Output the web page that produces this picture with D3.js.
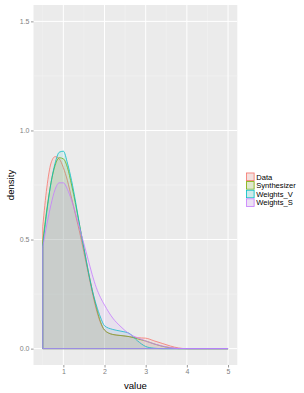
<!DOCTYPE html>
<html>
<head>
<meta charset="utf-8">
<script src="https://cdn.jsdelivr.net/npm/d3@7"></script>
<style>
  body { margin: 0; background: #fff; }
  text { font-family: "Liberation Sans", Arial, sans-serif; }
</style>
</head>
<body>
<svg id="chart" width="304" height="393"></svg>
<script>
const width = 304;
const height = 393;

// density estimates
const xs = [0.5, 0.6, 0.7, 0.8, 0.9, 1.0, 1.1, 1.2, 1.3, 1.4, 1.5, 1.6, 1.7, 1.8, 1.9, 2.0, 2.2, 2.4, 2.6, 2.8, 3.0, 3.2, 3.4, 3.6, 3.8, 4.0, 5.0];
const dataY    = [0.56, 0.74, 0.85, 0.88, 0.87, 0.83, 0.77, 0.69, 0.61, 0.53, 0.44, 0.35, 0.26, 0.18, 0.12, 0.085, 0.065, 0.06, 0.055, 0.05, 0.048, 0.036, 0.024, 0.012, 0.003, 0, 0];
const synthY   = [0.49, 0.64, 0.76, 0.84, 0.875, 0.87, 0.83, 0.75, 0.66, 0.56, 0.46, 0.36, 0.27, 0.19, 0.125, 0.085, 0.065, 0.06, 0.055, 0.045, 0.035, 0.022, 0.011, 0.004, 0, 0, 0];
const weightsV = [0.47, 0.63, 0.76, 0.85, 0.9, 0.905, 0.85, 0.77, 0.67, 0.56, 0.46, 0.36, 0.27, 0.2, 0.145, 0.105, 0.088, 0.08, 0.07, 0.036, 0.01, 0.002, 0, 0, 0, 0, 0];
const weightsS = [0.465, 0.57, 0.66, 0.73, 0.76, 0.76, 0.73, 0.68, 0.62, 0.55, 0.48, 0.41, 0.34, 0.28, 0.235, 0.2, 0.14, 0.1, 0.068, 0.05, 0.035, 0.022, 0.012, 0.005, 0.001, 0, 0];

const seriesNames = ["Data", "Synthesizer", "Weights_V", "Weights_S"];
const seriesColors = ["#F8766D", "#7CAE00", "#00BFC4", "#C77CFF"];
const seriesValues = [dataY, synthY, weightsV, weightsS];

const xTicks = [1, 2, 3, 4, 5];
const yTicks = [0, 0.5, 1.0, 1.5];

const panel = {left: 33.5, right: 237.3, top: 5, bottom: 365};

const svg = d3.select("#chart");

// ggplot style 5% expansion
const x = d3.scaleLinear().domain([0.275, 5.225]).range([panel.left, panel.right]);
const y = d3.scaleLinear().domain([-0.075, 1.575]).range([panel.bottom, panel.top]);

svg.append("rect")
    .attr("x", panel.left).attr("y", panel.top)
    .attr("width", panel.right - panel.left).attr("height", panel.bottom - panel.top)
    .attr("fill", "#EBEBEB");

// minor grid
const g = svg.append("g");
[0.5, 1.5, 2.5, 3.5, 4.5].forEach(v => {
    g.append("line").attr("x1", x(v)).attr("x2", x(v))
        .attr("y1", panel.top).attr("y2", panel.bottom)
        .attr("stroke", "#F5F5F5").attr("stroke-width", 0.5);
});
[0.25, 0.75, 1.25].forEach(v => {
    g.append("line").attr("y1", y(v)).attr("y2", y(v))
        .attr("x1", panel.left).attr("x2", panel.right)
        .attr("stroke", "#F5F5F5").attr("stroke-width", 0.5);
});
// major grid
xTicks.forEach(v => {
    g.append("line").attr("x1", x(v)).attr("x2", x(v))
        .attr("y1", panel.top).attr("y2", panel.bottom)
        .attr("stroke", "#fff").attr("stroke-width", 1);
});
yTicks.forEach(v => {
    g.append("line").attr("y1", y(v)).attr("y2", y(v))
        .attr("x1", panel.left).attr("x2", panel.right)
        .attr("stroke", "#fff").attr("stroke-width", 1);
});

// density polygons
const line = d3.line()
    .x(d => x(d[0]))
    .y(d => y(d[1]))
    .curve(d3.curveMonotoneX);

seriesValues.forEach((vals, i) => {
    const pts = xs.map((v, j) => [v, vals[j]]);
    const top = line(pts);
    const d = `M${x(xs[0])},${y(0)}L` + top.slice(1) +
        `L${x(xs[xs.length - 1])},${y(0)}Z`;
    svg.append("path")
        .attr("d", d)
        .attr("fill", seriesColors[i])
        .attr("fill-opacity", 0.1)
        .attr("stroke", seriesColors[i])
        .attr("stroke-width", 0.8);
});

// axes
const xAxis = svg.append("g")
    .attr("transform", `translate(0,${panel.bottom})`)
    .call(d3.axisBottom(x).tickValues(xTicks).tickSize(2.5).tickPadding(1.5).tickFormat(d3.format("d")));
const yAxis = svg.append("g")
    .attr("transform", `translate(${panel.left},0)`)
    .call(d3.axisLeft(y).tickValues(yTicks).tickSize(2.5).tickPadding(1.5).tickFormat(d3.format(".1f")));

[xAxis, yAxis].forEach(a => {
    a.select(".domain").remove();
    a.selectAll(".tick line").attr("stroke", "#333").attr("stroke-width", 0.5);
    a.selectAll(".tick text")
        .attr("fill", "#7F7F7F")
        .attr("font-size", "7px")
        .style("font-family", "'Liberation Sans', Arial, sans-serif");
});

svg.append("text")
    .attr("x", (panel.left + panel.right) / 2)
    .attr("y", 388.5)
    .attr("text-anchor", "middle")
    .attr("font-size", "9.6px")
    .attr("fill", "#000")
    .text("value");

svg.append("text")
    .attr("transform", `translate(13.5,${(panel.top + panel.bottom) / 2}) rotate(-90)`)
    .attr("text-anchor", "middle")
    .attr("font-size", "9.6px")
    .attr("fill", "#000")
    .text("density");

// legend
const legend = svg.append("g").attr("transform", "translate(246,172.5)");
const keySize = 8.6;
seriesNames.forEach((name, i) => {
    const row = legend.append("g").attr("transform", `translate(0,${i * keySize})`);
    row.append("rect")
        .attr("width", keySize).attr("height", keySize)
        .attr("fill", "#F2F2F2");
    row.append("rect")
        .attr("x", 0.5).attr("y", 0.5)
        .attr("width", keySize - 1).attr("height", keySize - 1)
        .attr("fill", seriesColors[i])
        .attr("fill-opacity", 0.15)
        .attr("stroke", seriesColors[i])
        .attr("stroke-width", 0.8);
    row.append("text")
        .attr("x", keySize + 1.6)
        .attr("y", keySize / 2 + 2.8)
        .attr("font-size", "7.6px")
        .attr("fill", "#000")
        .text(name);
});
</script>
</body>
</html>
